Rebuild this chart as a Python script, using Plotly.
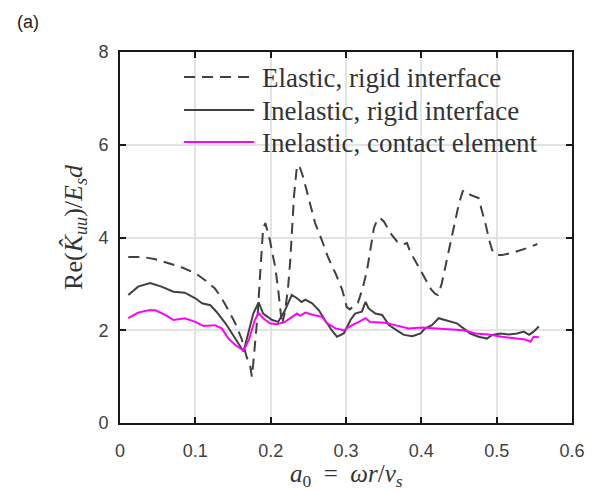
import plotly.graph_objects as go

# Elastic, rigid interface (dashed)
x_el = [0.011, 0.030, 0.047, 0.064, 0.080, 0.100, 0.113, 0.126, 0.135, 0.144, 0.153, 0.162, 0.168, 0.173, 0.175,
        0.177, 0.180, 0.183, 0.186, 0.188, 0.190, 0.193, 0.196, 0.199, 0.203, 0.206, 0.210, 0.213, 0.215,
        0.219, 0.223, 0.226, 0.228, 0.231, 0.235, 0.239, 0.243, 0.250, 0.259, 0.268, 0.276, 0.286, 0.295, 0.301, 0.305,
        0.316, 0.322, 0.328, 0.333, 0.337, 0.342, 0.345, 0.350, 0.354, 0.361, 0.368, 0.372, 0.378, 0.381, 0.385,
        0.389, 0.399, 0.408, 0.413, 0.419, 0.422, 0.427, 0.432, 0.441, 0.450, 0.455, 0.458, 0.465, 0.472, 0.476,
        0.480, 0.485, 0.490, 0.494, 0.500, 0.507, 0.515, 0.525, 0.540, 0.554]
y_el = [3.58, 3.58, 3.53, 3.44, 3.37, 3.23, 3.08, 2.90, 2.69, 2.43, 2.15, 1.79, 1.43, 1.21, 1.00,
        1.30, 1.80, 2.40, 3.20, 3.80, 4.20, 4.31, 4.15, 3.94, 3.60, 3.37, 2.87, 2.40, 2.12,
        2.40, 2.90, 3.50, 4.16, 4.90, 5.56, 5.50, 5.31, 4.88, 4.31, 3.94, 3.58, 3.23, 2.87, 2.50, 2.45,
        2.60, 2.90, 3.30, 3.80, 4.20, 4.40, 4.42, 4.35, 4.23, 4.05, 3.91, 3.92, 3.86, 3.88, 3.70,
        3.58, 3.30, 3.02, 2.88, 2.78, 2.76, 3.00, 3.37, 4.02, 4.74, 5.00, 5.02, 4.92, 4.88, 4.85,
        4.60, 4.31, 3.95, 3.73, 3.62, 3.62, 3.65, 3.69, 3.77, 3.86]

# Inelastic, rigid interface (solid dark)
x_in = [0.011, 0.024, 0.040, 0.055, 0.071, 0.086, 0.100, 0.109, 0.120, 0.128, 0.140, 0.151, 0.164,
        0.177, 0.184, 0.190, 0.202, 0.210, 0.219, 0.228, 0.235, 0.241, 0.246, 0.255, 0.264, 0.272, 0.281, 0.288,
        0.297, 0.306, 0.312, 0.321, 0.326, 0.330, 0.339, 0.348, 0.357, 0.370, 0.377, 0.388, 0.399, 0.405,
        0.414, 0.423, 0.432, 0.441, 0.447, 0.456, 0.465, 0.476, 0.487, 0.494, 0.505, 0.516, 0.527, 0.536,
        0.543, 0.549, 0.556]
y_in = [2.76, 2.94, 3.02, 2.94, 2.83, 2.81, 2.69, 2.58, 2.54, 2.40, 2.15, 1.86, 1.54,
        2.36, 2.60, 2.36, 2.22, 2.18, 2.43, 2.76, 2.69, 2.61, 2.66, 2.58, 2.43, 2.22, 2.00, 1.86,
        1.93, 2.22, 2.36, 2.40, 2.61, 2.47, 2.36, 2.33, 2.11, 1.97, 1.90, 1.87, 1.93, 2.04,
        2.11, 2.26, 2.22, 2.18, 2.15, 2.04, 1.93, 1.86, 1.82, 1.90, 1.93, 1.91, 1.93, 1.97,
        1.90, 1.97, 2.08]

# Inelastic, contact element (magenta)
x_ce = [0.011, 0.024, 0.038, 0.047, 0.060, 0.071, 0.086, 0.100, 0.111, 0.126, 0.135, 0.144, 0.153, 0.164,
        0.171, 0.179, 0.184, 0.190, 0.199, 0.208, 0.219, 0.228, 0.235, 0.239, 0.246, 0.257, 0.268, 0.275,
        0.286, 0.297, 0.308, 0.317, 0.326, 0.332, 0.352, 0.365, 0.383, 0.401, 0.419, 0.436, 0.456, 0.472,
        0.489, 0.507, 0.525, 0.538, 0.545, 0.549, 0.556]
y_ce = [2.26, 2.38, 2.43, 2.43, 2.33, 2.22, 2.26, 2.18, 2.09, 2.11, 2.04, 1.82, 1.68, 1.56,
        1.79, 2.22, 2.37, 2.26, 2.15, 2.13, 2.18, 2.29, 2.36, 2.31, 2.38, 2.33, 2.29, 2.15,
        2.04, 2.00, 2.11, 2.18, 2.26, 2.18, 2.16, 2.11, 2.04, 2.06, 2.04, 2.02, 2.00, 1.93,
        1.91, 1.86, 1.82, 1.80, 1.75, 1.86, 1.85]

x_ticks = [0, 0.1, 0.2, 0.3, 0.4, 0.5, 0.6]
y_ticks = [0, 2, 4, 6, 8]

names = ["Elastic, rigid interface", "Inelastic, rigid interface", "Inelastic, contact element"]
colors = ["#404040", "#404040", "#ff00ff"]
dashes = ["11px,7px", "solid", "solid"]

SERIF = "Liberation Serif, Times New Roman, serif"

fig = go.Figure()
for xs, ys, nm, c, d in zip([x_el, x_in, x_ce], [y_el, y_in, y_ce], names, colors, dashes):
    fig.add_trace(go.Scatter(x=xs, y=ys, mode="lines", name=nm, showlegend=False,
                             line=dict(color=c, width=2, dash=d)))

axis_common = dict(showline=True, linecolor="#1a1a1a", linewidth=2, mirror="ticks",
                   ticks="inside", ticklen=6, tickwidth=2, tickcolor="#1a1a1a",
                   showgrid=True, gridcolor="#e3e3e3", gridwidth=1.5, zeroline=False,
                   tickfont=dict(family="Arial, Liberation Sans", size=18, color="#404040"))

fig.update_xaxes(range=[0, 0.6], tickvals=x_ticks, ticktext=[str(v) if v else "0" for v in x_ticks],
                 ticklabelstandoff=10, **axis_common)
fig.update_yaxes(range=[0, 8], tickvals=y_ticks, ticklabelstandoff=6, **axis_common)

# manual legend (paper coordinates)
leg_rows = [0.9326, 0.8437, 0.7574]
shapes = []
annotations = []
for yr, nm, c, d in zip(leg_rows, names, colors, dashes):
    shapes.append(dict(type="line", xref="paper", yref="paper", x0=0.1417, x1=0.2968, y0=yr, y1=yr,
                       line=dict(color=c, width=2, dash=d)))
    annotations.append(dict(text=nm, xref="paper", yref="paper", x=0.3100, y=yr - 0.004,
                            xanchor="left", yanchor="middle", showarrow=False,
                            font=dict(family=SERIF, size=27, color="#333333")))

annotations += [
    dict(text="(a)", xref="paper", yref="paper", x=-0.204, y=1.081, xanchor="center", yanchor="middle",
         showarrow=False, font=dict(family="Arial, Liberation Sans", size=18, color="#222222")),
    dict(text="<i>a</i><sub>0</sub>\u2002=\u2002<i>ωr</i>/<i>v<sub>s</sub></i>", xref="paper", yref="paper",
         x=0.5, y=-0.142, xanchor="center", yanchor="middle", showarrow=False,
         font=dict(family=SERIF, size=25, color="#333333")),
    dict(text="Re(<i>K\u0302<sub>uu</sub></i>)/<i>E<sub>s</sub>d</i>", xref="paper", yref="paper",
         x=-0.100, y=0.528, textangle=-90, showarrow=False, xanchor="center", yanchor="middle",
         font=dict(family=SERIF, size=26, color="#333333")),
]

fig.update_layout(
    width=603, height=491,
    margin=dict(l=120, r=31, t=52, b=68),
    paper_bgcolor="white", plot_bgcolor="white",
    showlegend=False,
    shapes=shapes,
    annotations=annotations,
)

fig.write_html("out.html")
